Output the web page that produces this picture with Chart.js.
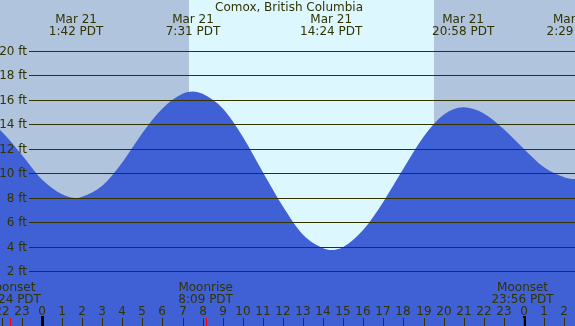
<!DOCTYPE html>
<html>
<head>
<meta charset="utf-8">
<script src="https://cdn.jsdelivr.net/npm/chart.js@4/dist/chart.umd.min.js"></script>
<style>
  html, body { margin: 0; padding: 0; background: #fff; }
  canvas { display: block; }
</style>
</head>
<body>
<canvas id="tide" width="575" height="326"></canvas>
<script>
// Hours counted from midnight Mar 21 (PDT), heights in feet
const hours = [-3, -2, -1, 0, 1, 1.7, 2, 3, 4, 5, 6, 7, 7.52, 8, 9, 10, 11, 12, 13, 14, 14.4,
  15, 16, 17, 18, 19, 20, 20.97, 22, 23, 24, 25, 26, 26.48, 27];
const heights = [14.7, 13.4, 11.5, 9.5, 8.3, 8.0, 8.1, 9.0, 10.9, 13.3, 15.3, 16.5, 16.7, 16.5, 15.3, 13.0, 10.1, 7.3, 5.0, 3.9, 3.75,
  4.0, 5.4, 7.7, 10.4, 13.0, 14.8, 15.4, 14.9, 13.6, 12.0, 10.5, 9.7, 9.55, 9.6];

// Tide extremes
const tideHours = [1.7, 7.52, 14.4, 20.97, 26.48];
const tideDates = ["Mar 21", "Mar 21", "Mar 21", "Mar 21", "Mar 22"];
const tideTimes = ["1:42 PDT", "7:31 PDT", "14:24 PDT", "20:58 PDT", "2:29 PDT"];

// Sun / moon
const sunrise = 7.32;
const sunset = 19.52;
const moonHours = [-1.6, 8.15, 23.93];
const moonNames = ["Moonset", "Moonrise", "Moonset"];
const moonTimes = ["22:24 PDT", "8:09 PDT", "23:56 PDT"];

// Axes
const ftTicks = [2, 4, 6, 8, 10, 12, 14, 16, 18, 20];
const hourTicks = [-2, -1, 0, 1, 2, 3, 4, 5, 6, 7, 8, 9, 10, 11, 12, 13, 14, 15, 16, 17, 18, 19, 20, 21, 22, 23, 24, 25, 26];
const hourLabels = ["22", "23", "0", "1", "2", "3", "4", "5", "6", "7", "8", "9", "10", "11", "12", "13", "14", "15", "16", "17", "18", "19", "20", "21", "22", "23", "0", "1", "2"];

const TEXT = "#333300";
const FONT = "12px 'DejaVu Sans', sans-serif";

const tidePlugin = {
  id: "tide",
  beforeDatasetsDraw(chart) {
    const { ctx, chartArea: a, scales: { x } } = chart;
    ctx.save();
    ctx.fillStyle = "#b0c4de";
    ctx.fillRect(a.left, a.top, a.right - a.left, a.bottom - a.top);
    const x1 = Math.round(x.getPixelForValue(sunrise));
    const x2 = Math.round(x.getPixelForValue(sunset));
    ctx.fillStyle = "#ddf7ff";
    ctx.fillRect(x1, a.top, x2 - x1, a.bottom - a.top);
    ctx.restore();
  },
  afterDatasetsDraw(chart) {
    const { ctx, chartArea: a, scales: { x, y } } = chart;
    ctx.save();
    ctx.font = FONT;
    ctx.fillStyle = TEXT;
    ctx.strokeStyle = TEXT;
    ctx.lineWidth = 1;

    // height grid + labels
    ctx.textAlign = "right";
    ctx.textBaseline = "middle";
    ftTicks.forEach((v) => {
      const py = Math.round(y.getPixelForValue(v)) + 0.5;
      ctx.beginPath();
      ctx.moveTo(29, py);
      ctx.lineTo(a.right, py);
      ctx.stroke();
      ctx.fillText(v + " ft", 27, py);
    });

    // title
    ctx.textAlign = "center";
    ctx.fillText("Comox, British Columbia", 289, 8);

    // tide extremes
    tideHours.forEach((h, i) => {
      const px = x.getPixelForValue(h);
      ctx.fillText(tideDates[i], px, 20);
      ctx.fillText(tideTimes[i], px, 32);
    });

    // moon events
    moonHours.forEach((h, i) => {
      const px = x.getPixelForValue(h);
      ctx.fillText(moonNames[i], px, 288);
      ctx.fillText(moonTimes[i], px, 300);
    });

    // hour ticks
    hourTicks.forEach((h, i) => {
      const px = Math.round(x.getPixelForValue(h));
      ctx.fillText(hourLabels[i], px, 312);
      if (hourLabels[i] === "0") {
        ctx.fillStyle = "#000";
        ctx.fillRect(px - 1, 316, 3, 10);
        ctx.fillStyle = TEXT;
      } else {
        ctx.fillRect(px, 318, 1, 8);
      }
    });
    ctx.fillStyle = "#ff0000";
    moonHours.forEach((h) => {
      const px = Math.round(x.getPixelForValue(h));
      ctx.fillRect(px, 318, 1, 8);
    });
    ctx.restore();
  },
};

new Chart(document.getElementById("tide"), {
  type: "line",
  data: {
    datasets: [{
      data: hours.map((h, i) => ({ x: h, y: heights[i] })),
      fill: "start",
      backgroundColor: "#4060d6",
      borderColor: "#4060d6",
      borderWidth: 0,
      pointRadius: 0,
      cubicInterpolationMode: "monotone",
    }],
  },
  options: {
    responsive: false,
    animation: false,
    devicePixelRatio: 1,
    layout: { padding: 0 },
    plugins: { legend: { display: false }, tooltip: { enabled: false } },
    scales: {
      x: { type: "linear", min: -2.09, max: 26.54, display: false },
      y: { min: -2.45, max: 24.16, display: false },
    },
  },
  plugins: [tidePlugin],
});
</script>
</body>
</html>
